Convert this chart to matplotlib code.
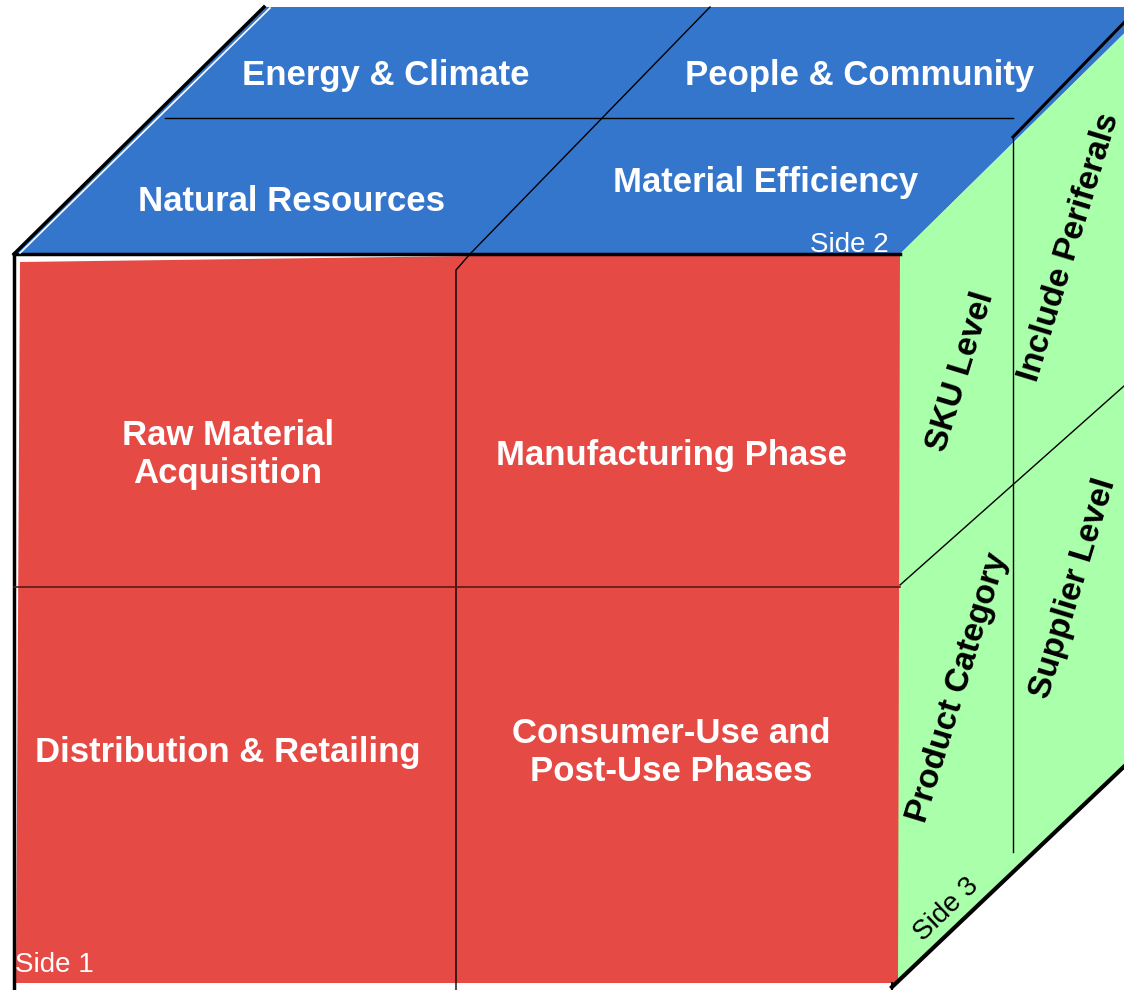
import matplotlib.pyplot as plt
from matplotlib.patches import Polygon

# CONFIG ===============================================================================================================

W, H = 1124, 990
BLUE = "#3576CD"
RED = "#E64A45"
GREEN = "#AAFFAA"

# cube geometry (pixel space, y down)
FRONT_L, FRONT_R, FRONT_T, FRONT_B = 14, 900, 254, 985
DEPTH_X, DEPTH_Y = 251, -247
MID_X, MID_Y = 456, 587          # front face dividers
TOP_MID_Y = 118                  # top face horizontal divider
SIDE_MID_X = 1013                # side face vertical divider
TEXT_DY = 2.5                    # baseline nudge for centred labels

# labels ---------------------------------------------------------------------------------------------------------------
top_labels = ["Energy & Climate", "People & Community", "Natural Resources", "Material Efficiency"]
top_pos = [(386, 73), (860, 73), (291, 199), (766, 180)]

front_labels = ["Raw Material\nAcquisition", "Manufacturing Phase",
                "Distribution & Retailing", "Consumer-Use and\nPost-Use Phases"]
front_pos = [(228, 452), (671, 453), (228, 750), (671, 750)]

side_labels = ["SKU Level", "Include Periferals", "Product Category", "Supplier Level"]
side_pos = [(961, 372), (1070, 247), (958, 688), (1074, 588)]
SIDE_ROT = 73

plt.rcParams["font.family"] = ["Liberation Sans", "DejaVu Sans"]

# DRAW =================================================================================================================

fig = plt.figure(figsize=(W / 100, H / 100), dpi=100)
ax = fig.add_axes([0, 0, 1, 1])
ax.set_xlim(0, W)
ax.set_ylim(H, 0)
ax.axis("off")

tl = (FRONT_L, FRONT_T)
tr = (FRONT_R, FRONT_T)
br = (FRONT_R - 8, FRONT_B + 2)
back_tl = (FRONT_L + DEPTH_X, FRONT_T + DEPTH_Y)
back_tr = (FRONT_R + DEPTH_X, FRONT_T + DEPTH_Y)
back_br = (br[0] + DEPTH_X, br[1] - 0.95 * DEPTH_X)

# faces
ax.add_patch(Polygon([tl, back_tl, back_tr, tr], closed=True, fc=BLUE, ec="none"))
ax.add_patch(Polygon([tr, back_tr, back_br, br], closed=True, fc=GREEN, ec="none"))
ax.add_patch(Polygon([(FRONT_L + 6, FRONT_T + 8), (470, FRONT_T + 2), (FRONT_R, FRONT_T),
                      (FRONT_R - 2, FRONT_B - 2), (FRONT_L + 2, FRONT_B - 2)],
                     closed=True, fc=RED, ec="none"))

# thick outer edges
ax.plot([FRONT_L, FRONT_L], [FRONT_T, H], color="black", lw=2.5, solid_capstyle="butt")
ax.plot([FRONT_L, FRONT_R], [FRONT_T, FRONT_T], color="black", lw=2.5)
ax.plot([FRONT_L, back_tl[0] - 1], [FRONT_T, back_tl[1]], color="black", lw=2.5)
ax.plot([FRONT_L + 6, back_tl[0] + 5], [FRONT_T - 1, back_tl[1] + 1], color="white", lw=1.2)
ax.plot([SIDE_MID_X, back_tr[0]], [137, 137 - (back_tr[0] - SIDE_MID_X) * 1.03], color="black", lw=2.2)
ax.plot([br[0], back_br[0]], [br[1], back_br[1]], color="black", lw=3)
ax.plot([br[0], br[0]], [FRONT_B - 2, H], color="black", lw=1.5)

# thin dividers
thin = dict(color="black", lw=1.0)
ax.plot([165, SIDE_MID_X], [TOP_MID_Y, TOP_MID_Y], **thin)
ax.plot([470, 710], [FRONT_T, 7], **thin)
ax.plot([MID_X, MID_X, 470], [H, 270, FRONT_T], **thin)
ax.plot([FRONT_L, FRONT_R], [MID_Y, MID_Y], color="#5a1a18", lw=1.2)
ax.plot([SIDE_MID_X, SIDE_MID_X], [137, 852], **thin)
ax.plot([FRONT_R, W], [585, 386], **thin)

# texts
bold = dict(fontweight="bold", ha="center", va="center")
for text, (x, y) in zip(top_labels, top_pos):
    ax.text(x, y + TEXT_DY, text, color="white", fontsize=25, **bold)
for text, (x, y) in zip(front_labels, front_pos):
    ax.text(x, y + TEXT_DY, text, color="white", fontsize=25, linespacing=1.2, **bold)
for text, (x, y) in zip(side_labels, side_pos):
    ax.text(x, y, text, color="black", fontsize=24, rotation=SIDE_ROT, rotation_mode="anchor", **bold)

ax.text(849, 245, "Side 2", color="white", fontsize=20, ha="center", va="center")
ax.text(15, 965, "Side 1", color="white", fontsize=20, ha="left", va="center")
ax.text(946, 910, "Side 3", color="black", fontsize=20, ha="center", va="center",
        rotation=44, rotation_mode="anchor")

fig.savefig("out.png", dpi=100)
